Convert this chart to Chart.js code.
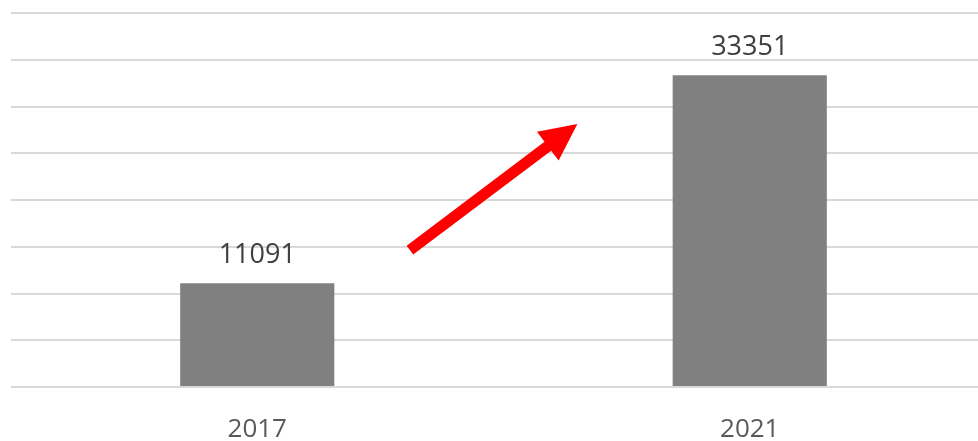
<!DOCTYPE html>
<html>
<head>
<meta charset="utf-8">
<script src="https://cdn.jsdelivr.net/npm/chart.js@4"></script>
<style>
  html, body { margin: 0; padding: 0; background: #fff; overflow: hidden; }
  #wrap { width: 996px; height: 441px; position: relative; }
</style>
</head>
<body>
<div id="wrap"><canvas id="myChart"></canvas></div>
<script>
const years = ['2017', '2021']
const values = [11091, 33351]
const yTicks = [0, 5000, 10000, 15000, 20000, 25000, 30000, 35000, 40000]

// arrow drawn between the bars, in data units (category index, value)
const arrowFrom = [0.31, 14650]
const arrowTo = [0.65, 28130]

const barLabels = {
  id: 'barLabels',
  afterDatasetsDraw(chart) {
    const { ctx } = chart
    const meta = chart.getDatasetMeta(0)
    ctx.save()
    ctx.font = '27px "Open Sans"'
    ctx.fillStyle = '#404040'
    ctx.textAlign = 'center'
    ctx.textBaseline = 'alphabetic'
    meta.data.forEach((bar, i) => {
      ctx.fillText(String(values[i]), bar.x, bar.y - 20)
    })
    ctx.restore()
  },
}

const redArrow = {
  id: 'redArrow',
  afterDatasetsDraw(chart) {
    const { ctx, scales: { x, y } } = chart
    const x1 = x.getPixelForValue(arrowFrom[0])
    const y1 = y.getPixelForValue(arrowFrom[1])
    const x2 = x.getPixelForValue(arrowTo[0])
    const y2 = y.getPixelForValue(arrowTo[1])
    const ang = Math.atan2(y2 - y1, x2 - x1)
    const headLen = 37
    const headHalf = 18
    const shaftHalf = 5.5
    const bx = x2 - headLen * Math.cos(ang)
    const by = y2 - headLen * Math.sin(ang)
    const px = -Math.sin(ang)
    const py = Math.cos(ang)
    ctx.save()
    ctx.fillStyle = '#ff0000'
    ctx.beginPath()
    ctx.moveTo(x1 + px * shaftHalf, y1 + py * shaftHalf)
    ctx.lineTo(bx + px * shaftHalf, by + py * shaftHalf)
    ctx.lineTo(bx + px * headHalf, by + py * headHalf)
    ctx.lineTo(x2, y2)
    ctx.lineTo(bx - px * headHalf, by - py * headHalf)
    ctx.lineTo(bx - px * shaftHalf, by - py * shaftHalf)
    ctx.lineTo(x1 - px * shaftHalf, y1 - py * shaftHalf)
    ctx.closePath()
    ctx.fill()
    ctx.restore()
  },
}

const config = {
  type: 'bar',
  data: {
    labels: years,
    datasets: [
      {
        data: values,
        backgroundColor: '#808080',
        borderWidth: 0,
        categoryPercentage: 1,
        barPercentage: 0.313,
      },
    ],
  },
  options: {
    responsive: true,
    maintainAspectRatio: false,
    animation: false,
    layout: { padding: { top: 13, left: 11, right: 0, bottom: 0 } },
    plugins: {
      legend: { display: false },
      tooltip: { enabled: false },
    },
    scales: {
      x: {
        grid: { display: false, drawTicks: false },
        border: { display: false },
        ticks: {
          color: '#595959',
          font: { size: 26, family: 'Open Sans' },
          padding: 27,
        },
        afterFit: (axis) => {
          axis.height = 54
        },
      },
      y: {
        min: 0,
        max: 40000,
        afterBuildTicks: (axis) => {
          axis.ticks = yTicks.map((v) => ({ value: v }))
        },
        grid: { color: '#d9d9d9', lineWidth: 2, drawTicks: false },
        border: { display: false },
        ticks: { display: false },
      },
    },
  },
  plugins: [barLabels, redArrow],
}

const myChart = new Chart(document.getElementById('myChart'), config)
</script>
</body>
</html>
